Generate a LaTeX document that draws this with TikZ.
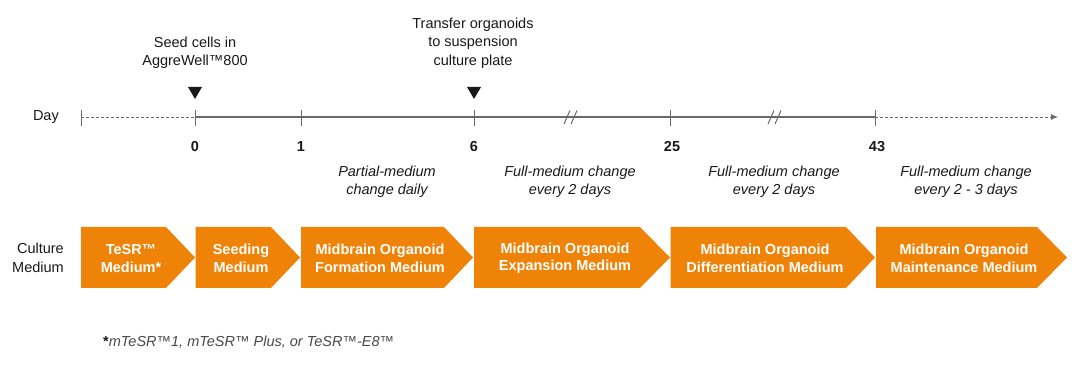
\documentclass[tikz,border=0pt]{standalone}
\usepackage{fontspec}
\setmainfont{Liberation Sans}
\usetikzlibrary{arrows.meta}
\definecolor{orng}{RGB}{238,131,8}
\definecolor{axisgray}{RGB}{105,105,105}
\definecolor{ink}{RGB}{25,25,25}
\definecolor{footgray}{RGB}{72,72,72}
\tikzset{
  lbl/.style={font=\fontsize{14.5}{18.5}\selectfont, text=ink, align=center, inner sep=0pt},
  daylbl/.style={font=\fontsize{14.5}{18}\selectfont\bfseries, text=ink, inner sep=0pt},
  notelbl/.style={font=\fontsize{14.5}{18.5}\selectfont\itshape, text=ink, align=center, inner sep=0pt},
  boxtxt/.style={font=\fontsize{14.5}{17.5}\selectfont\bfseries, text=white, align=center, inner sep=0pt},
  chev/.style={fill=orng},
  axisline/.style={draw=axisgray, line width=1.1pt},
  dashline/.style={draw=axisgray, line width=0.9pt, dash pattern=on 3pt off 2pt},
  tickline/.style={draw=axisgray, line width=1pt},
  marker/.style={fill=ink},
}
\begin{document}
\begin{tikzpicture}[x=1pt,y=-1pt]
\useasboundingbox (0,0) rectangle (1080,371);

% --- timeline
\coordinate (start) at (81,117);
\coordinate (d0) at (195,117);
\coordinate (d1) at (301,117);
\coordinate (d6) at (474,117);
\coordinate (d25) at (670,117);
\coordinate (d43) at (875,117);
\coordinate (end) at (1058,117);

\node[lbl, anchor=east] (day) at (59,117) {Day};

\draw[dashline] (start) -- (d0);
\draw[axisline] (d0) -- (d43);
\draw[dashline, -{Latex[length=7pt,width=6pt]}] (d43) -- (end);

\foreach \x in {81,195,301,474,670,875}{
  \draw[tickline] (\x,110.5) -- (\x,126);
}

% break marks
\foreach \c in {571,775}{
  \draw[tickline] (\c-7,124) -- (\c-1,110.5);
  \draw[tickline] (\c,124) -- (\c+6,110.5);
}

% day numbers
\node[daylbl] (n0) at (195,147) {0};
\node[daylbl] (n1) at (301,147) {1};
\node[daylbl] (n6) at (474,147) {6};
\node[daylbl] (n25) at (672,147) {25};
\node[daylbl] (n43) at (877,147) {43};

% event markers
\fill[marker] (188,87) -- (202,87) -- (195,99) -- cycle;
\fill[marker] (467,87) -- (481,87) -- (474,99) -- cycle;
\node[lbl] (seed) at (195,53) {Seed cells in\\AggreWell™800};
\node[lbl] (transfer) at (473,43) {Transfer organoids\\to suspension\\culture plate};

% medium-change notes
\node[notelbl] (note1) at (387,182) {Partial-medium\\change daily};
\node[notelbl] (note2) at (570,182) {Full-medium change\\every 2 days};
\node[notelbl] (note3) at (774,182) {Full-medium change\\every 2 days};
\node[notelbl] (note4) at (966,182) {Full-medium change\\every 2 - 3 days};

% culture medium chevrons
\node[lbl, align=right, anchor=east] (cm) at (64,258) {Culture\\Medium};

\fill[chev] (81,227) -- (166,227) -- (195,257.5) -- (166,288) -- (81,288) -- cycle;
\fill[chev] (195.5,227) -- (271,227) -- (300,257.5) -- (271,288) -- (195.5,288) -- cycle;
\fill[chev] (301,227) -- (444,227) -- (473,257.5) -- (444,288) -- (301,288) -- cycle;
\fill[chev] (474,227) -- (640,227) -- (670,257.5) -- (640,288) -- (474,288) -- cycle;
\fill[chev] (670.5,227) -- (846,227) -- (875,257.5) -- (846,288) -- (670.5,288) -- cycle;
\fill[chev] (876,227) -- (1037,227) -- (1067,257.5) -- (1037,288) -- (876,288) -- cycle;

\node[boxtxt] (m1) at (131,258.5) {TeSR™\\Medium*};
\node[boxtxt] (m2) at (241,258.5) {Seeding\\Medium};
\node[boxtxt] (m3) at (380,258.5) {Midbrain Organoid\\Formation Medium};
\node[boxtxt] (m4) at (565,258.5) {Midbrain Organoid\\Expansion Medium};
\node[boxtxt] (m5) at (765,258.5) {Midbrain Organoid\\Differentiation Medium};
\node[boxtxt] (m6) at (964,258.5) {Midbrain Organoid\\Maintenance Medium};

% footnote
\node[anchor=west, inner sep=0pt, font=\fontsize{14.5}{18}\selectfont, text=footgray] (foot) at (103,342)
  {{\bfseries\color{ink}*}\itshape mTeSR™1, mTeSR™ Plus, or TeSR™-E8™};
\end{tikzpicture}
\end{document}
